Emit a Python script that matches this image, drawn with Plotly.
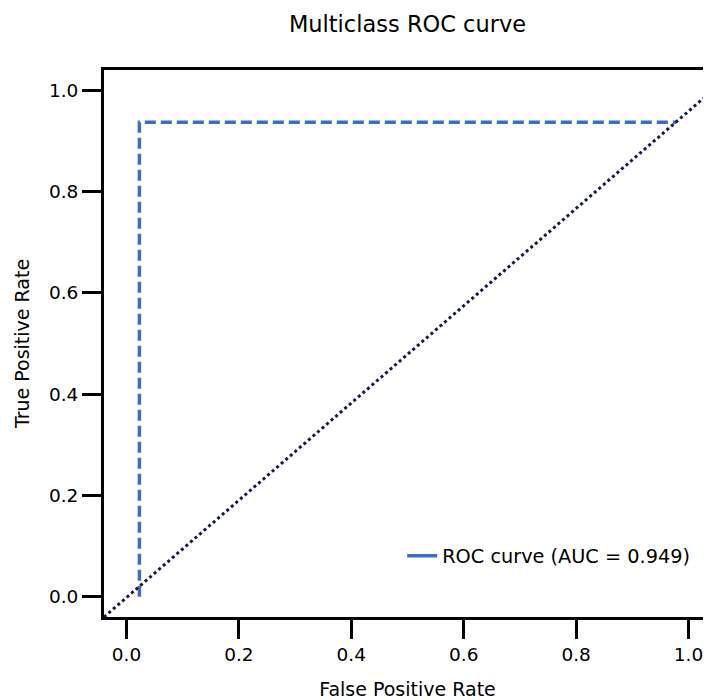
import plotly.graph_objects as go

# ROC curve data
roc_fpr = [0.023, 0.023, 0.978]
roc_tpr = [0.0, 0.937, 0.937]
roc_label = "ROC curve (AUC = 0.949)"

# axis range (same on both axes)
axis_range = [-0.04, 1.04]
# dotted reference (chance) line, end points
chance_x = [-0.04, 1.04]
chance_y = [-0.04, 0.997]

tick_vals = [0.0, 0.2, 0.4, 0.6, 0.8, 1.0]
tick_text = ["0.0", "0.2", "0.4", "0.6", "0.8", "1.0"]

FONT = "DejaVu Sans"
BLUE = "#3a6ec9"

fig = go.Figure()
fig.add_trace(go.Scatter(
    x=roc_fpr, y=roc_tpr, mode="lines", name=roc_label, showlegend=False,
    line=dict(color=BLUE, width=3.5, dash="11px,5px"),
))
fig.add_trace(go.Scatter(
    x=chance_x, y=chance_y, mode="lines", showlegend=False,
    line=dict(color="#141b45", width=3, dash="dot"),
))
# legend entry (solid sample, as in the reference)
fig.add_trace(go.Scatter(
    x=[None], y=[None], mode="lines", name=roc_label,
    line=dict(color=BLUE, width=3.5),
))

axis_common = dict(
    range=axis_range,
    tickvals=tick_vals, ticktext=tick_text,
    ticks="outside", ticklen=19, tickwidth=3, tickcolor="black",
    showline=True, linecolor="black", linewidth=3,
    showgrid=False, zeroline=False,
    tickfont=dict(family=FONT, size=18.5, color="black"),
)

fig.update_layout(
    width=703, height=692,
    margin=dict(l=96, r=0, t=62, b=83),
    paper_bgcolor="white", plot_bgcolor="white",
    title=dict(text="Multiclass ROC curve", x=0.5, xref="paper",
               y=0.976, yref="container", yanchor="middle",
               font=dict(family=FONT, size=22.5, color="black")),
    xaxis=dict(**axis_common, mirror=True,
               title=dict(text="False Positive Rate",
                          font=dict(family=FONT, size=19, color="black"),
                          standoff=19)),
    yaxis=dict(**axis_common,
               title=dict(text="True Positive Rate",
                          font=dict(family=FONT, size=19, color="black"),
                          standoff=15)),
    legend=dict(x=0.974, y=0.111, xanchor="right", yanchor="middle",
                bgcolor="rgba(0,0,0,0)",
                font=dict(family=FONT, size=19.3, color="black")),
    showlegend=True,
)

fig.write_html("out.html")
